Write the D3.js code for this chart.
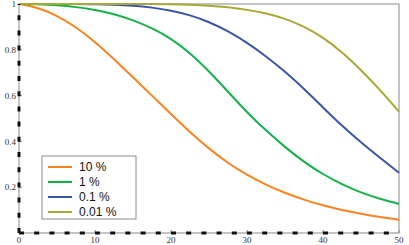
<!DOCTYPE html>
<html>
<head>
<meta charset="utf-8">
<script src="https://cdn.jsdelivr.net/npm/d3@7"></script>
<style>
  html, body { margin: 0; padding: 0; background: #fff; }
  svg { display: block; }
</style>
</head>
<body>
<div id="chart"></div>
<script>
const xs = [0, 2.5, 5, 7.5, 10, 12.5, 15, 17.5, 20, 22.5, 25, 27.5, 30, 32.5, 35, 37.5, 40, 42.5, 45, 47.5, 50];

const seriesNames = ["10 %", "1 %", "0.1 %", "0.01 %"];
const seriesColors = ["#f7841f", "#14b14b", "#3b55a6", "#a8a834"];

const p10 = [1.0, 0.985, 0.95, 0.90, 0.835, 0.76, 0.68, 0.60, 0.52, 0.44, 0.368, 0.305, 0.253, 0.21, 0.175, 0.145, 0.12, 0.1, 0.084, 0.07, 0.058];
const p1 = [1.0, 0.999, 0.995, 0.987, 0.975, 0.957, 0.93, 0.895, 0.85, 0.787, 0.707, 0.617, 0.527, 0.447, 0.375, 0.31, 0.256, 0.212, 0.176, 0.149, 0.127];
const p01 = [1.0, 1.0, 1.0, 1.0, 0.999, 0.997, 0.993, 0.985, 0.972, 0.952, 0.922, 0.882, 0.832, 0.772, 0.705, 0.63, 0.548, 0.468, 0.395, 0.328, 0.263];
const p001 = [1.0, 1.0, 1.0, 1.0, 1.0, 1.0, 1.0, 1.0, 0.999, 0.997, 0.993, 0.986, 0.975, 0.96, 0.937, 0.902, 0.855, 0.79, 0.712, 0.625, 0.53];

const xTicks = [0, 10, 20, 30, 40, 50];
const yTicks = [0.2, 0.4, 0.6, 0.8, 1];

const width = 409, height = 245;
const margin = {top: 4, right: 10, bottom: 12, left: 19};

const svg = d3.select("#chart").append("svg")
    .attr("width", width)
    .attr("height", height);

const x = d3.scaleLinear().domain([0, 50]).range([margin.left, width - margin.right]);
const y = d3.scaleLinear().domain([0, 1]).range([height - margin.bottom, margin.top]);

// grey frame
svg.append("rect")
    .attr("x", x(0)).attr("y", y(1))
    .attr("width", x(50) - x(0)).attr("height", y(0) - y(1))
    .attr("fill", "none").attr("stroke", "#8a8a8a").attr("stroke-width", 1);

// tick marks pointing inside
svg.append("g").selectAll("line")
    .data(yTicks).join("line")
    .attr("x1", x(0)).attr("x2", x(0) + 3)
    .attr("y1", d => y(d)).attr("y2", d => y(d))
    .attr("stroke", "#8a8a8a");

svg.append("g").selectAll("line")
    .data(xTicks).join("line")
    .attr("x1", d => x(d)).attr("x2", d => x(d))
    .attr("y1", y(0)).attr("y2", y(0) - 3)
    .attr("stroke", "#8a8a8a");

// curves
const line = d3.line()
    .x((d, i) => x(xs[i]))
    .y(d => y(d))
    .curve(d3.curveBasis);

const allSeries = [p10, p1, p01, p001];
svg.append("g").selectAll("path")
    .data(allSeries).join("path")
    .attr("d", d => line(d))
    .attr("fill", "none")
    .attr("stroke", (d, i) => seriesColors[i])
    .attr("stroke-width", 2);

// dashed black axes on the left and bottom
svg.append("line")
    .attr("x1", x(0)).attr("x2", x(0))
    .attr("y1", y(0)).attr("y2", y(1))
    .attr("stroke", "#111").attr("stroke-width", 3)
    .attr("stroke-dasharray", "5,10.2");

svg.append("line")
    .attr("x1", x(0)).attr("x2", x(50))
    .attr("y1", y(0)).attr("y2", y(0))
    .attr("stroke", "#111").attr("stroke-width", 3)
    .attr("stroke-dasharray", "5,10.2");

// tick labels
svg.append("g").selectAll("text")
    .data(yTicks).join("text")
    .attr("x", x(0) - 3)
    .attr("y", d => y(d))
    .attr("dy", "0.35em")
    .attr("text-anchor", "end")
    .style("font-family", "'Liberation Serif', serif")
    .style("font-size", "9px")
    .style("fill", "#333")
    .text(d => d === 1 ? "1" : d3.format(".1f")(d));

svg.append("g").selectAll("text")
    .data(xTicks).join("text")
    .attr("x", d => x(d))
    .attr("y", y(0) + 10)
    .attr("text-anchor", "middle")
    .style("font-family", "'Liberation Serif', serif")
    .style("font-size", "9px")
    .style("fill", "#333")
    .text(d => d);

// legend
const legend = svg.append("g").attr("transform", "translate(42,156)");
legend.append("rect")
    .attr("x", 0).attr("y", 0)
    .attr("width", 94).attr("height", 63)
    .attr("fill", "#fff").attr("stroke", "#8a8a8a");

const rows = legend.selectAll("g.row")
    .data(seriesNames).join("g")
    .attr("transform", (d, i) => `translate(0,${11 + i * 15})`);

rows.append("line")
    .attr("x1", 6).attr("x2", 30)
    .attr("stroke", (d, i) => seriesColors[i])
    .attr("stroke-width", 2);

rows.append("text")
    .attr("x", 37)
    .attr("dy", "0.36em")
    .style("font-family", "'Liberation Sans', Arial, sans-serif")
    .style("font-size", "12px")
    .style("fill", "#111")
    .text(d => d);
</script>
</body>
</html>
